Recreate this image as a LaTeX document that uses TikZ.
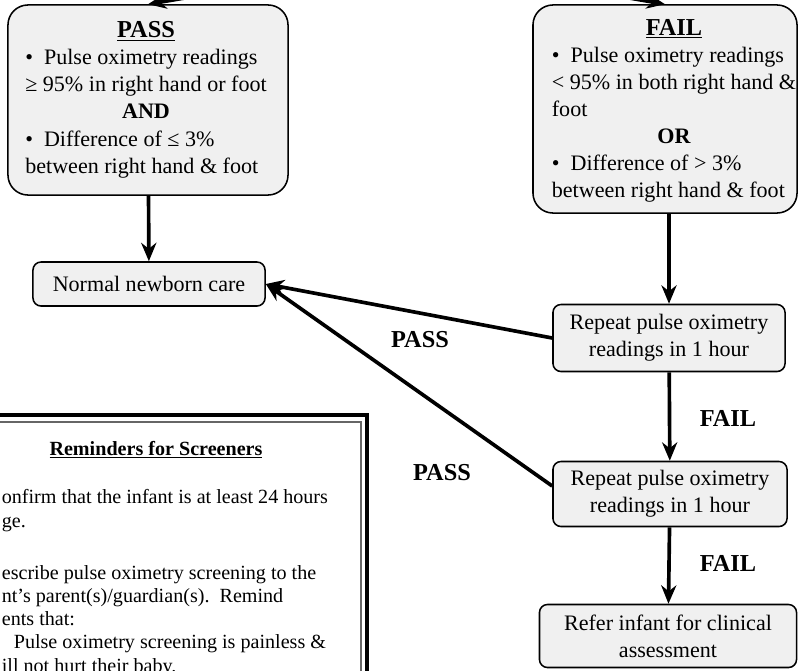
\documentclass[tikz,border=0pt]{standalone}
\usepackage{fontspec}
\setmainfont{Liberation Serif}
\usetikzlibrary{arrows.meta,positioning}

\newcommand{\boxhead}[1]{{\fontsize{17.3}{19.3}\selectfont\bfseries\underline{#1}}}

\begin{document}
\begin{tikzpicture}[
    x=0.025cm,y=0.025cm,
    >={Stealth[length=4.6mm,width=3.8mm]},
    line width=2.6pt,
    font=\fontsize{15.7}{19.3}\selectfont,
    bigbox/.style={
        draw=black, line width=1.1pt,
        rectangle, rounded corners=0.5cm,
        fill=black!6,
        inner sep=0pt
    },
    box/.style={
        draw=black, line width=1.1pt,
        rectangle, rounded corners=0.2cm,
        fill=black!6,
        minimum width=5.8cm,
        minimum height=1.1cm,
        align=center,
        inner sep=0pt
    },
    boxtext/.style={
        inner sep=0pt,
        text=black
    },
    lbl/.style={
        font=\fontsize{17.3}{19.3}\selectfont\bfseries
    },
    note/.style={
        inner sep=0pt,
        align=left,
        font=\fontsize{14.3}{16.5}\selectfont
    }
]

\useasboundingbox (0,0) rectangle (799,-670);
\clip (0,0) rectangle (799,-670);

% ====== top result boxes ======
\coordinate (src) at (410,40);

\node[bigbox, minimum width=7cm, minimum height=4.75cm] (pass) at (148,-100) {};
\node[boxtext] (passtext) at (146,-100) {\begin{tabular}{@{}l@{}}
    \multicolumn{1}{@{}c@{}}{\boxhead{PASS}}\\
    •\ \ Pulse oximetry readings\\
    ≥ 95\% in right hand or foot\\
    \multicolumn{1}{@{}c@{}}{\textbf{AND}}\\
    •\ \ Difference of ≤ 3\%\\
    between right hand \& foot
\end{tabular}};

\node[bigbox, minimum width=6.6cm, minimum height=5.2cm] (fail) at (665,-109) {};
\node[boxtext] (failtext) at (674,-111) {\begin{tabular}{@{}l@{}}
    \multicolumn{1}{@{}c@{}}{\boxhead{FAIL}}\\
    •\ \ Pulse oximetry readings\\
    < 95\% in both right hand \&\\
    foot\\
    \multicolumn{1}{@{}c@{}}{\textbf{OR}}\\
    •\ \ Difference of > 3\%\\
    between right hand \& foot
\end{tabular}};

\draw[->] (src) -- (pass.north);
\draw[->] (src) -- (fail.north);

% ====== follow-up boxes ======
\node[box] (normal) at (149,-284) {Normal newborn care};
\node[box, minimum height=1.675cm] (rep1) at (669,-338) {Repeat pulse oximetry\\readings in 1 hour};
\node[box, minimum width=5.85cm, minimum height=1.625cm] (rep2) at (670,-494) {Repeat pulse oximetry\\readings in 1 hour};
\node[box, minimum width=6.425cm, minimum height=1.575cm] (refer) at (668,-636) {Refer infant for clinical\\assessment};

\draw[->] (pass) -- (normal);
\draw[->] (fail.south -| rep1.north) -- (rep1.north);
\draw[->] (rep1) -- (rep2);
\draw[->] (rep2) -- (refer);
\draw[->] (rep1.west) -- (normal.east);
\draw[->] ([yshift=0.2cm]rep2.west) -- (normal.east);

\node[lbl] (pass1) at (420,-340) {PASS};
\node[lbl] (pass2) at (442,-473) {PASS};
\node[lbl] (fail1) at (728,-418) {FAIL};
\node[lbl] (fail2) at (728,-563) {FAIL};

% ====== reminders box (cut by the frame) ======
\draw[line width=2.8pt, fill=white] (-40,-415) rectangle (367,-720);
\draw[line width=0.8pt, black!60] (-40,-422) rectangle (361,-720);

\node[note, font=\fontsize{14.3}{16.5}\selectfont\bfseries] (remhead) at (156,-450) {\underline{Reminders for Screeners}};
\node[note, anchor=north west] (remtext) at (0,-488) {%
    onfirm that the infant is at least 24 hours\\
    ge.\\[0.72cm]
    escribe pulse oximetry screening to the\\
    nt’s parent(s)/guardian(s).\ \ Remind\\
    ents that:\\
    \hspace*{0.3cm}Pulse oximetry screening is painless \&\\
    ill not hurt their baby.};

\end{tikzpicture}
\end{document}
